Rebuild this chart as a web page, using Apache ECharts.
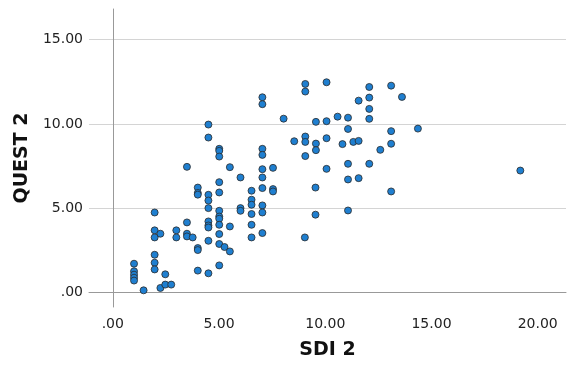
<!DOCTYPE html>
<html>
<head>
<meta charset="utf-8">
<script src="https://cdn.jsdelivr.net/npm/echarts@6/dist/echarts.min.js"></script>
<style>
html,body{margin:0;padding:0;background:#fff;}
#main{width:568px;height:365px;}
</style>
</head>
<body>
<div id="main"></div>
<script>
// SDI 2 (x) vs QUEST 2 (y)
var sdi2 = [1,1,1,1,1, 1.45,
  1.97,1.97,1.97,1.97,1.97,1.97, 2.24,2.24, 2.47,2.47, 2.75, 2.99,2.99,
  3.49,3.49,3.49,3.49, 3.76,
  4,4,4,4,4,4,
  4.5,4.5,4.5,4.5,4.5,4.5,4.5,4.5,4.5,4.5,
  5.01,5.01,5.01,5.01,5.01,5.01,5.01,5.01,5.01,5.01,5.01,5.01, 5.26,
  5.51,5.51,5.51, 6.01,6.01,6.01,
  6.53,6.53,6.53,6.53,6.53,6.53,
  7.04,7.04,7.04,7.04,7.04,7.04,7.04,7.04,7.04,7.04,
  7.54,7.54,7.54, 8.04, 8.54,
  9.06,9.06,9.06,9.06,9.06,9.04,
  9.56,9.56,9.56,9.54,9.54,
  10.06,10.06,10.06,10.06, 10.58, 10.81,
  11.07,11.07,11.07,11.07,11.07, 11.32,
  11.57,11.57,11.57,
  12.07,12.07,12.07,12.07,12.07, 12.59,
  13.1,13.1,13.1,13.1, 13.61, 14.36, 19.18];
var quest2 = [1.70,1.25,1.05,0.87,0.70, 0.12,
  4.74,3.68,3.26,2.23,1.76,1.36, 3.48,0.26, 1.07,0.46, 0.46, 3.68,3.26,
  7.45,4.15,3.48,3.32, 3.26,
  6.22,5.90,5.80,2.63,2.51,1.29,
  9.96,9.19,5.79,5.45,5.00,4.21,3.97,3.85,3.06,1.13,
  8.52,8.40,8.06,6.54,5.93,4.84,4.50,4.37,4.01,3.46,2.87,1.60, 2.69,
  7.43,3.91,2.43, 6.82,5.00,4.84,
  6.03,5.50,5.20,4.65,4.01,3.26,
  11.58,11.17,8.52,8.16,7.31,6.82,6.19,5.16,4.74,3.52,
  7.39,6.13,5.99, 10.31, 8.97,
  12.37,11.92,9.25,8.93,8.09,3.26,
  10.12,8.83,8.44,6.22,4.61,
  12.47,10.16,9.15,7.33, 10.43, 8.80,
  10.37,9.70,7.63,6.70,4.86, 8.93,
  11.38,8.99,6.78,
  12.19,11.56,10.89,10.30,7.63, 8.46,
  12.27,9.57,8.82,5.99, 11.60, 9.72, 7.23];
var xTicks = [0, 5, 10, 15, 20];
var yTicks = [0, 5, 10, 15];

var points = [];
for (var i = 0; i < sdi2.length; i++) {
  points.push([sdi2[i], quest2[i]]);
}

function fmt(v) {
  var s = v.toFixed(2);
  return s.charAt(0) === '0' ? s.substring(1) : s;
}

var myChart = echarts.init(document.getElementById('main'));
var option = {
  animation: false,
  grid: { left: 89, right: 2, top: 9, bottom: 58 },
  xAxis: {
    type: 'value',
    min: -1.12, max: 21.33,
    name: 'SDI 2',
    nameLocation: 'middle',
    nameGap: 34,
    nameTextStyle: { fontFamily: 'DejaVu Sans', fontWeight: 'bold', fontSize: 19, color: '#111' },
    axisLine: { show: true, lineStyle: { color: '#999', width: 1 } },
    axisTick: { show: false, customValues: xTicks },
    axisLabel: { customValues: xTicks, formatter: fmt, margin: 10,
      fontFamily: 'DejaVu Sans', fontSize: 14, color: '#222' },
    splitLine: { show: false }
  },
  yAxis: {
    type: 'value',
    min: -0.87, max: 16.82,
    name: 'QUEST 2',
    nameLocation: 'middle',
    nameGap: 54,
    nameTextStyle: { fontFamily: 'DejaVu Sans', fontWeight: 'bold', fontSize: 19, color: '#111' },
    axisLine: { show: true, lineStyle: { color: '#999', width: 1 } },
    axisTick: { show: false, customValues: yTicks },
    axisLabel: { customValues: yTicks, formatter: fmt, margin: 6,
      fontFamily: 'DejaVu Sans', fontSize: 14, color: '#222' },
    splitLine: { show: true, lineStyle: { color: '#d4d4d4', width: 1 } }
  },
  series: [{
    type: 'scatter',
    data: points,
    symbol: 'circle',
    symbolSize: 7,
    itemStyle: { color: '#1f7fd0', borderColor: '#2a2a2a', borderWidth: 0.8, opacity: 1 }
  }]
};
myChart.setOption(option);
</script>
</body>
</html>
